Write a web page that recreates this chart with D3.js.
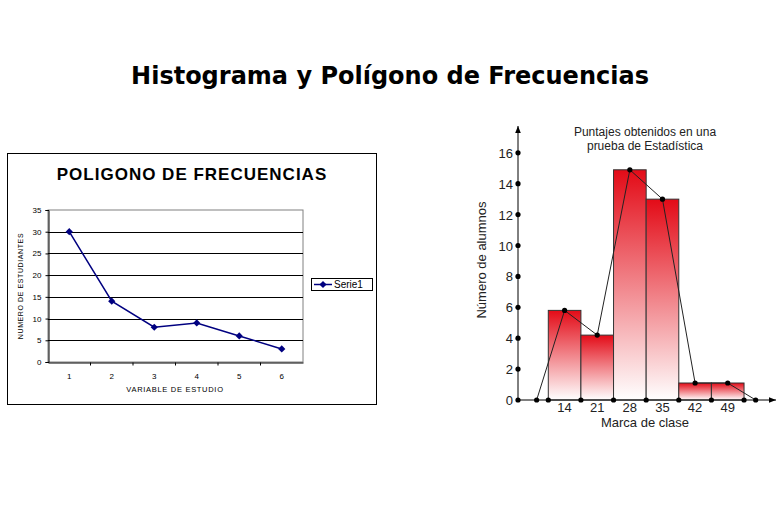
<!DOCTYPE html>
<html>
<head>
<meta charset="utf-8">
<script src="https://cdn.jsdelivr.net/npm/d3@7"></script>
<style>
  body { margin: 0; background: #fff; }
  svg { display: block; }
</style>
</head>
<body>
<svg id="chart" width="778" height="512"></svg>
<script>
// left chart: polygon of frequencies
var categorias = [1, 2, 3, 4, 5, 6];
var serie1 = [30, 14, 8, 9, 6, 3];
var yTicksIzq = [0, 5, 10, 15, 20, 25, 30, 35];

// right chart: histogram
var marcas = [14, 21, 28, 35, 42, 49];
var alumnos = [5.8, 4.2, 14.9, 13, 1.1, 1.1];
var poligonoX = [8, 14, 21, 28, 35, 42, 49, 55];
var poligonoY = [0, 5.8, 4.2, 14.9, 13, 1.1, 1.1, 0];
var yTicksDer = [0, 2, 4, 6, 8, 10, 12, 14, 16];
var anchoClase = 7;

var svg = d3.select("#chart");

svg.append("text")
  .attr("x", 390).attr("y", 84)
  .attr("text-anchor", "middle")
  .style("font-family", "DejaVu Sans")
  .style("font-weight", "bold")
  .style("font-size", "24px")
  .text("Histograma y Polígono de Frecuencias");

// ---------- left chart ----------
var izq = svg.append("g");

izq.append("rect")
  .attr("x", 7.5).attr("y", 153.5)
  .attr("width", 369).attr("height", 251)
  .attr("fill", "#fff").attr("stroke", "#000");

izq.append("text")
  .attr("x", 192).attr("y", 180)
  .attr("text-anchor", "middle")
  .style("font-family", "Liberation Sans")
  .style("font-weight", "bold")
  .style("font-size", "17px")
  .style("letter-spacing", "1px")
  .text("POLIGONO DE FRECUENCIAS");

var xIzq = d3.scaleBand().domain(categorias).range([48, 303]);
var yIzq = d3.scaleLinear().domain([0, 35]).range([362, 210]);

izq.append("rect")
  .attr("x", 48).attr("y", 210)
  .attr("width", 255).attr("height", 152)
  .attr("fill", "none").attr("stroke", "#808080");

izq.selectAll(".grid")
  .data(yTicksIzq.slice(1, -1))
  .enter().append("line")
  .attr("x1", 48).attr("x2", 303)
  .attr("y1", function (d) { return Math.round(yIzq(d)) + 0.5; })
  .attr("y2", function (d) { return Math.round(yIzq(d)) + 0.5; })
  .attr("stroke", "#000");

var ejeY = izq.append("g")
  .attr("transform", "translate(48.5,0)")
  .call(d3.axisLeft(yIzq).tickValues(yTicksIzq).tickSize(3).tickPadding(4));
ejeY.selectAll("text").style("font-family", "Liberation Sans").style("font-size", "8px");

var ejeX = izq.append("g")
  .attr("transform", "translate(0,362.5)")
  .call(d3.axisBottom(xIzq).tickSize(0).tickPadding(11));
ejeX.selectAll("text").style("font-family", "Liberation Sans").style("font-size", "8px");
ejeX.selectAll(".sep")
  .data(categorias.slice(1))
  .enter().append("line")
  .attr("x1", function (d) { return xIzq(d); })
  .attr("x2", function (d) { return xIzq(d); })
  .attr("y1", 0).attr("y2", 3)
  .attr("stroke", "#000");
izq.selectAll(".domain").attr("stroke", "#000");

izq.append("text")
  .attr("x", 175).attr("y", 392)
  .attr("text-anchor", "middle")
  .style("font-family", "Liberation Sans")
  .style("font-size", "7.5px")
  .style("letter-spacing", "0.7px")
  .text("VARIABLE DE ESTUDIO");

izq.append("text")
  .attr("transform", "translate(23,286) rotate(-90)")
  .attr("text-anchor", "middle")
  .style("font-family", "Liberation Sans")
  .style("font-size", "7px")
  .style("letter-spacing", "0.6px")
  .text("NUMERO DE ESTUDIANTES");

var lineaIzq = d3.line()
  .x(function (d, i) { return xIzq(categorias[i]) + xIzq.bandwidth() / 2; })
  .y(function (d) { return yIzq(d); });

izq.append("path")
  .datum(serie1)
  .attr("d", lineaIzq)
  .attr("fill", "none")
  .attr("stroke", "#000080")
  .attr("stroke-width", 1.5);

// square turned 45 degrees gives an even diamond
var diamante = d3.symbol().type(d3.symbolSquare).size(26);
izq.selectAll(".pt")
  .data(serie1)
  .enter().append("path")
  .attr("d", diamante)
  .attr("transform", function (d, i) {
    return "translate(" + (xIzq(categorias[i]) + xIzq.bandwidth() / 2) + "," + yIzq(d) + ") rotate(45)";
  })
  .attr("fill", "#000080");

// legend
var leyenda = izq.append("g").attr("transform", "translate(311,278)");
leyenda.append("rect")
  .attr("x", 0.5).attr("y", 0.5).attr("width", 61).attr("height", 12)
  .attr("fill", "#fff").attr("stroke", "#000");
leyenda.append("line")
  .attr("x1", 3).attr("x2", 21).attr("y1", 6.5).attr("y2", 6.5)
  .attr("stroke", "#000080").attr("stroke-width", 1.5);
leyenda.append("path")
  .attr("d", diamante)
  .attr("transform", "translate(12,6.5) rotate(45)")
  .attr("fill", "#000080");
leyenda.append("text")
  .attr("x", 23).attr("y", 10)
  .style("font-family", "Liberation Sans")
  .style("font-size", "10px")
  .text("Serie1");

// ---------- right chart ----------
var der = svg.append("g");

var defs = svg.append("defs");
var grad = defs.append("linearGradient")
  .attr("id", "rojo")
  .attr("x1", 0).attr("y1", 0).attr("x2", 0).attr("y2", 1);
grad.append("stop").attr("offset", "0%").attr("stop-color", "#e30b17");
grad.append("stop").attr("offset", "100%").attr("stop-color", "#ffffff");

var xDer = d3.scaleLinear().domain([4, 58.5]).range([518, 772]);
var yDer = d3.scaleLinear().domain([0, 16]).range([400, 152.8]);

der.append("text")
  .attr("x", 645).attr("y", 136)
  .attr("text-anchor", "middle")
  .style("font-family", "Liberation Sans")
  .style("font-size", "12px")
  .style("fill", "#222")
  .text("Puntajes obtenidos en una");
der.append("text")
  .attr("x", 645).attr("y", 150)
  .attr("text-anchor", "middle")
  .style("font-family", "Liberation Sans")
  .style("font-size", "12px")
  .style("fill", "#222")
  .text("prueba de Estadística");

der.selectAll(".barra")
  .data(alumnos)
  .enter().append("rect")
  .attr("x", function (d, i) { return xDer(marcas[i] - anchoClase / 2); })
  .attr("width", function (d, i) { return xDer(marcas[i] + anchoClase / 2) - xDer(marcas[i] - anchoClase / 2); })
  .attr("y", function (d) { return yDer(d); })
  .attr("height", function (d) { return yDer(0) - yDer(d); })
  .attr("fill", "url(#rojo)")
  .attr("stroke", "#333")
  .attr("stroke-width", 1);

// axes with arrows
defs.append("marker")
  .attr("id", "flecha")
  .attr("viewBox", "0 0 10 10")
  .attr("refX", 10).attr("refY", 5)
  .attr("markerWidth", 7).attr("markerHeight", 7)
  .attr("orient", "auto")
  .append("path").attr("d", "M0,1 L10,5 L0,9 Z").attr("fill", "#000");

der.append("line")
  .attr("x1", xDer(4)).attr("x2", xDer(4))
  .attr("y1", yDer(0)).attr("y2", 126)
  .attr("stroke", "#000").attr("marker-end", "url(#flecha)");
der.append("line")
  .attr("x1", xDer(4)).attr("x2", 776)
  .attr("y1", yDer(0)).attr("y2", yDer(0))
  .attr("stroke", "#000").attr("marker-end", "url(#flecha)");

der.append("path")
  .datum(poligonoY)
  .attr("d", d3.line()
    .x(function (d, i) { return xDer(poligonoX[i]); })
    .y(function (d) { return yDer(d); }))
  .attr("fill", "none")
  .attr("stroke", "#222")
  .attr("stroke-width", 1);

// dots on y axis
der.selectAll(".dy")
  .data(yTicksDer)
  .enter().append("circle")
  .attr("cx", xDer(4)).attr("cy", function (d) { return yDer(d); })
  .attr("r", 2.6).attr("fill", "#000");

der.selectAll(".ly")
  .data(yTicksDer)
  .enter().append("text")
  .attr("x", xDer(4) - 5).attr("y", function (d) { return yDer(d) + 5; })
  .attr("text-anchor", "end")
  .style("font-family", "Liberation Sans")
  .style("font-size", "13px")
  .style("fill", "#222")
  .text(function (d) { return d; });

// dots on x axis at class boundaries
var bordes = [marcas[0] - anchoClase / 2].concat(marcas.map(function (m) { return m + anchoClase / 2; }));
der.selectAll(".dx")
  .data(bordes)
  .enter().append("circle")
  .attr("cx", function (d) { return xDer(d); }).attr("cy", yDer(0))
  .attr("r", 2.6).attr("fill", "#000");

der.selectAll(".pp")
  .data(poligonoY)
  .enter().append("circle")
  .attr("cx", function (d, i) { return xDer(poligonoX[i]); })
  .attr("cy", function (d) { return yDer(d); })
  .attr("r", 2.6).attr("fill", "#000");

der.selectAll(".lx")
  .data(marcas)
  .enter().append("text")
  .attr("x", function (d) { return xDer(d); }).attr("y", 412)
  .attr("text-anchor", "middle")
  .style("font-family", "Liberation Sans")
  .style("font-size", "13px")
  .style("fill", "#222")
  .text(function (d) { return d; });

der.append("text")
  .attr("x", 645).attr("y", 427)
  .attr("text-anchor", "middle")
  .style("font-family", "Liberation Sans")
  .style("font-size", "13px")
  .style("fill", "#222")
  .text("Marca de clase");

der.append("text")
  .attr("transform", "translate(486,260) rotate(-90)")
  .attr("text-anchor", "middle")
  .style("font-family", "Liberation Sans")
  .style("font-size", "13px")
  .style("fill", "#222")
  .text("Número de alumnos");
</script>
</body>
</html>
